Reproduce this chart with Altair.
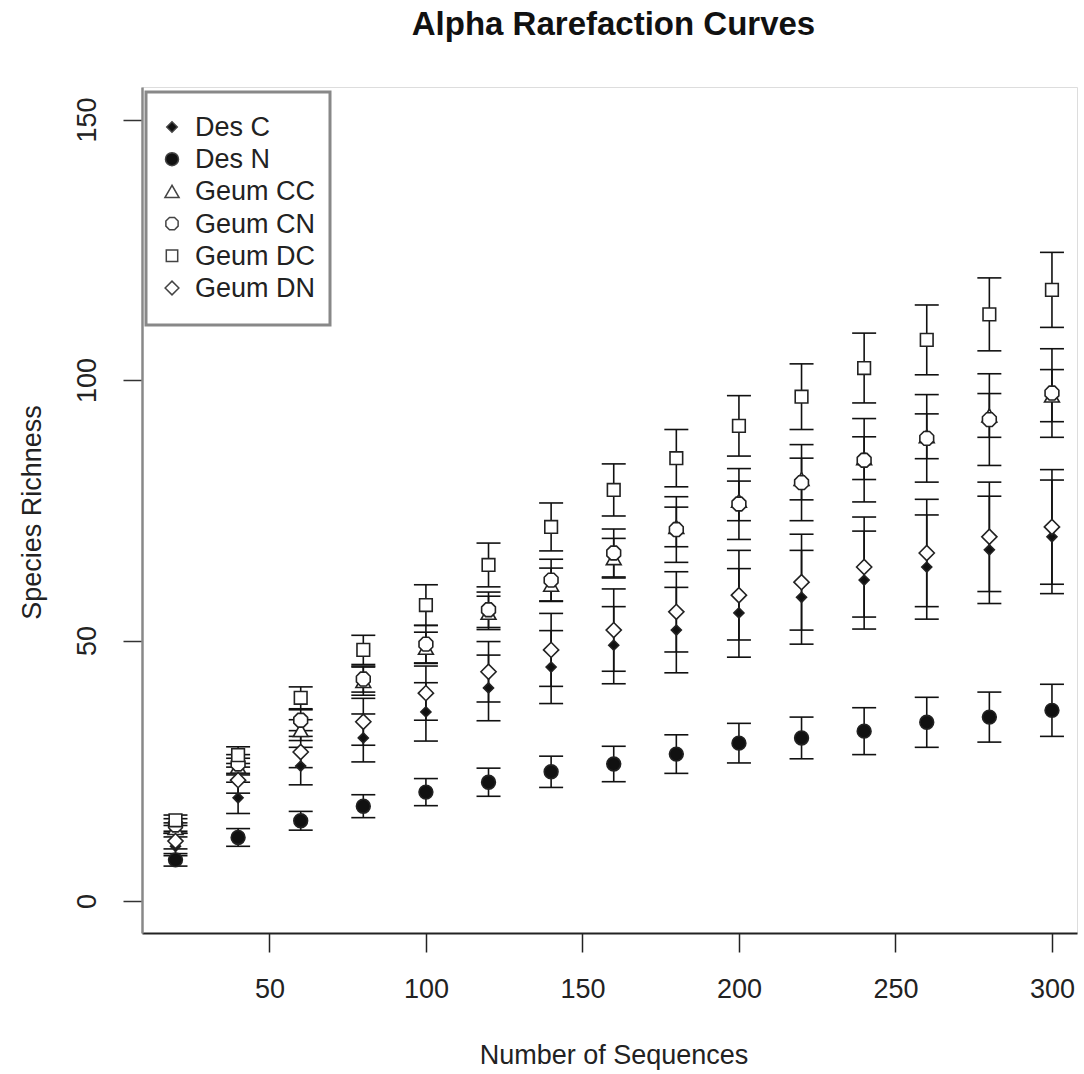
import altair as alt
import pandas as pd

# ---- data ----
seqs = [20, 40, 60, 80, 100, 120, 140, 160, 180, 200, 220, 240, 260, 280, 300]
series_names = ["Des C", "Des N", "Geum CC", "Geum CN", "Geum DC", "Geum DN"]

des_c = [10.5, 19.8, 25.9, 31.3, 36.3, 40.9, 44.9, 49.1, 52.0, 55.3, 58.3, 61.6, 64.1, 67.4, 69.9]
des_c_err = [1.8, 3.0, 3.6, 4.6, 5.6, 6.3, 7.0, 7.4, 8.2, 8.5, 9.0, 9.4, 10.0, 10.3, 10.9]

des_n = [7.9, 12.2, 15.4, 18.2, 20.9, 22.8, 24.8, 26.3, 28.2, 30.3, 31.3, 32.6, 34.3, 35.3, 36.6]
des_n_err = [1.2, 1.7, 1.8, 2.2, 2.6, 2.7, 3.0, 3.4, 3.7, 3.8, 4.0, 4.5, 4.8, 4.8, 5.0]

geum_cc = [14.0, 25.8, 32.8, 42.2, 48.6, 55.3, 60.7, 65.8, 71.8, 76.8, 81.0, 85.0, 89.2, 93.2, 97.0]
geum_cc_err = [1.0, 1.6, 2.0, 2.7, 3.0, 3.2, 3.2, 3.8, 3.8, 3.8, 4.0, 4.1, 4.3, 4.2, 5.0]

geum_cn = [14.6, 26.3, 34.7, 42.6, 49.3, 55.9, 61.6, 66.8, 71.3, 76.2, 80.3, 84.6, 88.8, 92.4, 97.5]
geum_cn_err = [1.2, 1.8, 2.0, 2.5, 3.6, 3.4, 4.0, 4.6, 6.3, 6.8, 7.3, 8.0, 8.4, 8.8, 8.5]

geum_dc = [15.5, 28.0, 39.0, 48.2, 56.8, 64.5, 71.8, 78.9, 85.0, 91.2, 96.8, 102.3, 107.7, 112.6, 117.3]
geum_dc_err = [1.0, 1.6, 2.1, 2.8, 3.9, 4.2, 4.6, 5.0, 5.5, 5.8, 6.3, 6.7, 6.7, 7.0, 7.2]

geum_dn = [11.5, 23.2, 28.6, 34.4, 39.9, 44.0, 48.2, 52.0, 55.5, 58.7, 61.2, 64.1, 66.8, 69.9, 71.8]
geum_dn_err = [1.5, 2.5, 3.0, 4.5, 5.2, 5.8, 7.0, 7.9, 7.7, 8.6, 9.2, 9.6, 10.3, 10.5, 11.0]

x_ticks = [50, 100, 150, 200, 250, 300]
y_ticks = [0, 50, 100, 150]

FONT = "Liberation Sans"
octagon = "M-0.41,-1L0.41,-1L1,-0.41L1,0.41L0.41,1L-0.41,1L-1,0.41L-1,-0.41Z"
shapes = ["diamond", "circle", "triangle-up", octagon, "square", "diamond"]
fills = ["#111111", "#111111", "white", "white", "white", "white"]
sizes = [100, 190, 220, 190, 160, 230]
legend_sizes = [110, 170, 200, 150, 130, 190]

# ---- table ----
means = [des_c, des_n, geum_cc, geum_cn, geum_dc, geum_dn]
errs = [des_c_err, des_n_err, geum_cc_err, geum_cn_err, geum_dc_err, geum_dn_err]
rows = []
for name, m, e, sz in zip(series_names, means, errs, sizes):
    for xv, mv, ev in zip(seqs, m, e):
        rows.append({"series": name, "n": xv, "rich": mv, "lo": mv - ev, "hi": mv + ev, "sz": sz})
df = pd.DataFrame(rows)
leg_df = pd.DataFrame({"series": series_names, "label": series_names, "sz": legend_sizes})
frame_df = pd.DataFrame({"k": [0]})

shape_scale = alt.Scale(domain=series_names, range=shapes)
fill_scale = alt.Scale(domain=series_names, range=fills)
xscale = alt.Scale(domain=[9.3, 308], nice=False, zero=False)
yscale = alt.Scale(domain=[-6.14, 156.24], nice=False, zero=False)

xaxis = alt.Axis(values=x_ticks, title="Number of Sequences", grid=False,
                 tickSize=19, tickColor="#222", tickWidth=1.5,
                 labelFont=FONT, labelFontSize=27, labelColor="#222",
                 labelBaseline="alphabetic", labelPadding=45,
                 domainColor="#222", domainWidth=2,
                 titleFont=FONT, titleFontSize=27, titleFontWeight="normal",
                 titleColor="#222", titleBaseline="alphabetic", titleAlign="center",
                 titleX=471.5, titleY=130)
yaxis = alt.Axis(values=y_ticks, title="Species Richness", grid=False,
                 tickSize=19, tickColor="#333", tickWidth=1.5,
                 labelFont=FONT, labelFontSize=27, labelColor="#222",
                 labelAngle=270, labelAlign="center", labelBaseline="alphabetic",
                 labelPadding=28,
                 domainColor="#888", domainWidth=2.5,
                 titleFont=FONT, titleFontSize=27, titleFontWeight="normal",
                 titleColor="#222", titleAngle=270, titleBaseline="alphabetic",
                 titleAlign="center", titleX=-102, titleY=425)

base = alt.Chart(df)

bars = base.mark_rule(color="#111", strokeWidth=1.6).encode(
    x=alt.X("n:Q", scale=xscale, axis=xaxis),
    y=alt.Y("lo:Q", scale=yscale, axis=yaxis),
    y2="hi:Q",
)
cap_lo = base.mark_tick(orient="horizontal", size=24, thickness=1.6, color="#111", opacity=1).encode(
    x=alt.X("n:Q", scale=xscale),
    y=alt.Y("lo:Q", scale=yscale, axis=None),
)
cap_hi = base.mark_tick(orient="horizontal", size=24, thickness=1.6, color="#111", opacity=1).encode(
    x=alt.X("n:Q", scale=xscale),
    y=alt.Y("hi:Q", scale=yscale, axis=None),
)
points = base.mark_point(filled=True, opacity=1, stroke="#222", strokeWidth=1.6).encode(
    x=alt.X("n:Q", scale=xscale),
    y=alt.Y("rich:Q", scale=yscale, axis=None),
    shape=alt.Shape("series:N", scale=shape_scale, legend=None),
    fill=alt.Fill("series:N", scale=fill_scale, legend=None),
    size=alt.Size("sz:Q", scale=None, legend=None),
)

# ---- legend box (drawn as marks, R-style) ----
leg_y = alt.Y("series:N", scale=alt.Scale(domain=series_names, range=[40, 201], padding=0), axis=None)
leg_frame = alt.Chart(frame_df).mark_rect(fill="white", stroke="#888", strokeWidth=3).encode(
    x=alt.value(4), x2=alt.value(188), y=alt.value(5), y2=alt.value(238)
)
leg_sym = alt.Chart(leg_df).mark_point(filled=True, opacity=1, stroke="#444", strokeWidth=1.5).encode(
    x=alt.value(30), y=leg_y,
    shape=alt.Shape("series:N", scale=shape_scale, legend=None),
    fill=alt.Fill("series:N", scale=fill_scale, legend=None),
    size=alt.Size("sz:Q", scale=None, legend=None),
)
leg_txt = alt.Chart(leg_df).mark_text(align="left", baseline="middle", font=FONT,
                                      fontSize=27, color="#222", dy=1).encode(
    x=alt.value(53), y=leg_y, text="label:N"
)

chart = alt.layer(bars, cap_lo, cap_hi, points, leg_frame, leg_sym, leg_txt).resolve_scale(
    y="independent"
).properties(
    width=935, height=846,
    autosize=alt.AutoSizeParams(type="none"),
    padding={"left": 142, "top": 87, "right": 7, "bottom": 141},
    title=alt.TitleParams("Alpha Rarefaction Curves", font=FONT, fontSize=33,
                          fontWeight="bold", color="#111", anchor="middle",
                          baseline="alphabetic", offset=19, dx=4),
).configure_view(stroke="#888", strokeWidth=2.5).configure(background="white")

chart.save("out.html", embed_options={"renderer": "svg", "actions": False})
